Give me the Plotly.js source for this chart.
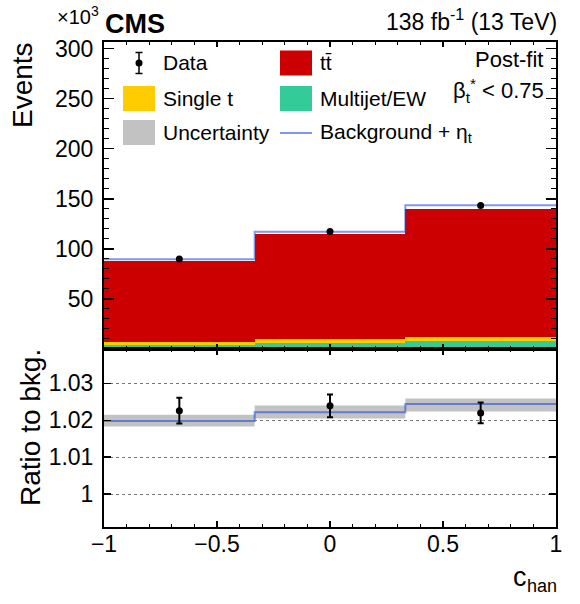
<!DOCTYPE html>
<html><head><meta charset="utf-8">
<script src="https://cdn.plot.ly/plotly-3.0.1.min.js"></script>
<style>html,body{margin:0;padding:0;background:#fff}#chart{width:580px;height:604px}</style>
</head><body><div id="chart"></div>
<script>
// ---- data (events in units of 10^3) ----
const binEdges = [-1, -0.3333, 0.3333, 1];
const multijetEW = [4.0, 6.0, 8.0];
const singleTop = [3.0, 4.0, 4.0];
const ttbar = [80.8, 104.6, 128.1];
// ratio to background panel
const signalRatio = [1.0198, 1.0222, 1.0244];
const bandLow = [1.0183, 1.0205, 1.0224];
const bandHigh = [1.0215, 1.0240, 1.0259];
const dataRatio = [1.0226, 1.0239, 1.0220];
const dataRatioErr = [0.0035, 0.0031, 0.0028];
// ticks
const xTickVals = [-1, -0.5, 0, 0.5, 1];
const xTickText = ['\u22121', '\u22120.5', '0', '0.5', '1'];
const yTickVals = [50, 100, 150, 200, 250, 300];
const ratioTickVals = [1, 1.01, 1.02, 1.03];
const ratioTickText = ['1', '1.01', '1.02', '1.03'];

// ---- derived ----
const nb = ttbar.length;
const centers = [], widths = [], totals = [];
for (let i = 0; i < nb; i++) {
  centers.push((binEdges[i] + binEdges[i + 1]) / 2);
  widths.push(binEdges[i + 1] - binEdges[i]);
  totals.push(multijetEW[i] + singleTop[i] + ttbar[i]);
}
const signalEvents = totals.map((t, i) => t * signalRatio[i]);
const dataEvents = totals.map((t, i) => t * dataRatio[i]);
const dataEventsErr = totals.map((t, i) => t * dataRatioErr[i]);
const step = a => a.concat([a[a.length - 1]]);

const FONT = 'Liberation Sans, Arial, Helvetica, sans-serif';
const BLUE = 'rgba(20,70,220,0.55)';
const C_TT = '#cc0000', C_ST = '#ffcc00', C_MJ = '#33cc99', C_UNC = '#c2c2c2';

// pixel -> paper helpers
const W = 580, H = 604, ML = 104, MR = 24, MT = 42, MB = 77;
const PW = W - ML - MR, PH = H - MT - MB;
const px = x => (x - ML) / PW;
const py = y => (H - MB - y) / PH;
const splitY = py(349);

const traces = [
  {type: 'bar', x: centers, y: multijetEW, width: widths, marker: {color: C_MJ, line: {width: 0}}, xaxis: 'x', yaxis: 'y'},
  {type: 'bar', x: centers, y: singleTop, width: widths, marker: {color: C_ST, line: {width: 0}}, xaxis: 'x', yaxis: 'y'},
  {type: 'bar', x: centers, y: ttbar, width: widths, marker: {color: C_TT, line: {width: 0}}, xaxis: 'x', yaxis: 'y'},
  {type: 'scatter', mode: 'lines', x: binEdges, y: step(signalEvents), line: {shape: 'hv', color: BLUE, width: 2}, xaxis: 'x', yaxis: 'y'},
  {type: 'scatter', mode: 'markers', x: centers, y: dataEvents, marker: {color: 'black', size: 7},
   error_y: {type: 'data', array: dataEventsErr, color: 'black', thickness: 2, width: 0}, xaxis: 'x', yaxis: 'y'},
  // ratio panel
  {type: 'scatter', mode: 'lines', x: binEdges, y: step(bandLow), line: {shape: 'hv', width: 0}, xaxis: 'x2', yaxis: 'y2'},
  {type: 'scatter', mode: 'lines', x: binEdges, y: step(bandHigh), line: {shape: 'hv', width: 0}, fill: 'tonexty', fillcolor: C_UNC, xaxis: 'x2', yaxis: 'y2'},
  {type: 'scatter', mode: 'lines', x: binEdges, y: step(signalRatio), line: {shape: 'hv', color: BLUE, width: 2}, xaxis: 'x2', yaxis: 'y2'},
  {type: 'scatter', mode: 'markers', x: centers, y: dataRatio, marker: {color: 'black', size: 7},
   error_y: {type: 'data', array: dataRatioErr, color: 'black', thickness: 2, width: 3}, xaxis: 'x2', yaxis: 'y2'}
];

const axBase = {showline: true, linewidth: 2, linecolor: 'black', mirror: 'ticks', ticks: 'inside',
  tickcolor: 'black', showgrid: false, zeroline: false, fixedrange: true,
  tickfont: {family: FONT, size: 23, color: 'black'}};

const layout = {
  width: W, height: H, margin: {l: ML, r: MR, t: MT, b: MB, pad: 0},
  paper_bgcolor: 'white', plot_bgcolor: 'white', showlegend: false, barmode: 'stack', bargap: 0,
  font: {family: FONT, color: 'black'},
  xaxis: Object.assign({}, axBase, {anchor: 'y', domain: [0, 1], range: [-1, 1], tickmode: 'array', tickvals: xTickVals,
    showticklabels: false, ticklen: 5, tickwidth: 1.5,
    minor: {ticks: 'inside', ticklen: 3, tick0: 0, dtick: 0.1, tickcolor: 'black', tickwidth: 1}}),
  yaxis: Object.assign({}, axBase, {anchor: 'x', domain: [splitY, 1], range: [0, 306.5], tickmode: 'array', tickvals: yTickVals,
    ticklen: 10, tickwidth: 1.5, ticklabelstandoff: 4,
    minor: {ticks: 'inside', ticklen: 5, tick0: 0, dtick: 10, tickcolor: 'black', tickwidth: 1}}),
  xaxis2: Object.assign({}, axBase, {anchor: 'y2', domain: [0, 1], range: [-1, 1], tickmode: 'array', tickvals: xTickVals,
    ticktext: xTickText, ticklen: 6, tickwidth: 1.5, ticklabelstandoff: -5,
    minor: {ticks: 'inside', ticklen: 3, tick0: 0, dtick: 0.1, tickcolor: 'black', tickwidth: 1}}),
  yaxis2: Object.assign({}, axBase, {anchor: 'x2', domain: [0, splitY], range: [0.9911, 1.0393], tickmode: 'array',
    tickvals: ratioTickVals, ticktext: ratioTickText, ticklen: 7, tickwidth: 1.5, ticklabelstandoff: 4,
    showgrid: true, gridcolor: '#777', griddash: 'dot', gridwidth: 1}),
  shapes: [],
  annotations: []
};

function txt(text, x, y, xanchor, size, extra) {
  layout.annotations.push(Object.assign({text: text, x: px(x), y: py(y), xref: 'paper', yref: 'paper',
    xanchor: xanchor, yanchor: 'middle', showarrow: false, borderpad: 0, borderwidth: 0,
    font: {family: FONT, size: size, color: 'black'}}, extra || {}));
}
function rect(x0, y0, x1, y1, color) {
  layout.shapes.push({type: 'rect', xref: 'paper', yref: 'paper', x0: px(x0), x1: px(x1), y0: py(y1), y1: py(y0),
    fillcolor: color, line: {width: 0}});
}
function seg(x0, y0, x1, y1, color, w) {
  layout.shapes.push({type: 'line', xref: 'paper', yref: 'paper', x0: px(x0), x1: px(x1), y0: py(y0), y1: py(y1),
    line: {color: color, width: w}});
}

// header texts
txt('\u00d710<sup>3</sup>', 99, 16, 'right', 20);
txt('<b>CMS</b>', 105, 24, 'left', 27);
txt('138 fb<sup>-1</sup> (13 TeV)', 557, 20, 'right', 23);
txt('Post-fit', 543, 60, 'right', 22);
txt('\u03b2<sub>t</sub><sup>*</sup> &lt; 0.75', 543.5, 91, 'right', 22);

// axis titles
txt('Events', 22, 85, 'center', 28, {textangle: -90});
txt('Ratio to bkg.', 30, 428, 'center', 28, {textangle: -90});
txt('c', 527, 577, 'right', 27);
txt('han', 526.5, 586, 'left', 18);

// legend
seg(139, 52.5, 139, 73.5, 'black', 1.5);
seg(135.5, 52.5, 142.5, 52.5, 'black', 1.5);
seg(135.5, 73.5, 142.5, 73.5, 'black', 1.5);
layout.shapes.push({type: 'circle', xref: 'paper', yref: 'paper', x0: px(135.5), x1: px(142.5), y0: py(66.5), y1: py(59.5),
  fillcolor: 'black', line: {width: 0}});
rect(123, 86, 155, 111, C_ST);
rect(123, 120, 155, 145, C_UNC);
rect(280, 50.5, 312, 75.5, C_TT);
rect(280, 86, 312, 111, C_MJ);
seg(280, 133, 312, 133, BLUE, 2);
txt('Data', 163, 63, 'left', 21);
txt('Single t', 163, 98.5, 'left', 21);
txt('Uncertainty', 163, 132.5, 'left', 21);
txt('tt\u0304', 320, 63, 'left', 21);
txt('Multijet/EW', 320, 98.5, 'left', 21);
txt('Background + \u03b7<sub>t</sub>', 320, 132.5, 'left', 21);

Plotly.newPlot('chart', traces, layout, {staticPlot: true, displayModeBar: false});
</script>
</body></html>
